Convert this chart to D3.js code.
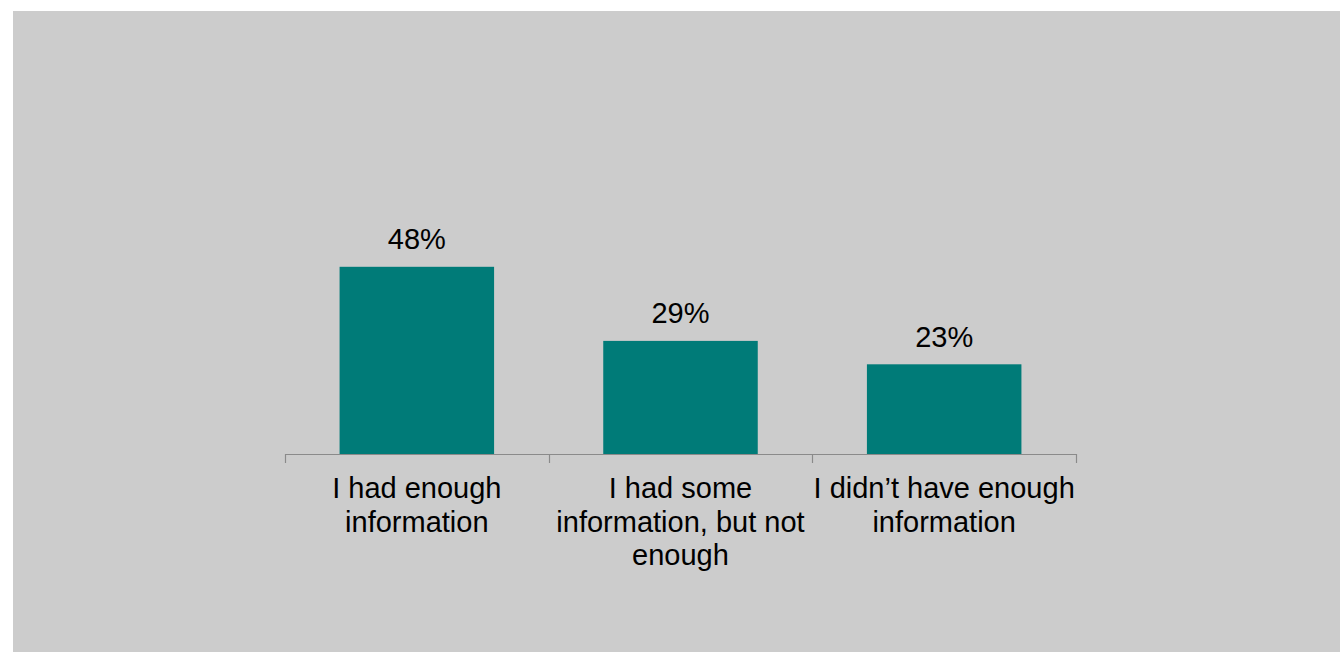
<!DOCTYPE html>
<html>
<head>
<meta charset="utf-8">
<script src="https://cdn.jsdelivr.net/npm/d3@7"></script>
<style>
  html, body { margin: 0; padding: 0; background: #fff; }
  svg { display: block; }
  text { font-family: "Liberation Sans", Arial, sans-serif; fill: #000; }
</style>
</head>
<body>
<svg id="chart"></svg>
<script>
const categories = ["I had enough information", "I had some information, but not enough", "I didn\u2019t have enough information"];
const values = [0.48, 0.29, 0.23];
const yMax = 0.6;

const W = 1340, H = 652;
const svg = d3.select("#chart").attr("width", W).attr("height", H);

svg.append("rect")
  .attr("x", 13).attr("y", 11)
  .attr("width", W - 13).attr("height", H - 11)
  .attr("fill", "#cccccc");

const plot = { left: 285, right: 1076, top: 220, bottom: 454 };

const x = d3.scaleBand().domain(categories)
  .range([plot.left, plot.right])
  .paddingInner(0.414).paddingOuter(0.207);
const y = d3.scaleLinear().domain([0, yMax]).range([plot.bottom, plot.top]);
const fmt = d3.format(".0%");

const g = svg.append("g");

g.selectAll(".bar").data(categories).enter().append("rect")
  .attr("class", "bar")
  .attr("x", d => x(d))
  .attr("width", x.bandwidth())
  .attr("y", (d, i) => y(values[i]))
  .attr("height", (d, i) => y(0) - y(values[i]))
  .attr("fill", "#007b78");

g.selectAll(".val").data(categories).enter().append("text")
  .attr("class", "val")
  .attr("x", d => x(d) + x.bandwidth() / 2)
  .attr("y", (d, i) => y(values[i]) - 17.5)
  .attr("text-anchor", "middle")
  .style("font-size", "29px")
  .text((d, i) => fmt(values[i]));

// axis line with ticks at band edges
const step = x.step();
const edges = d3.range(categories.length + 1).map(i => plot.left + i * step);
const axis = g.append("g").attr("class", "axis");
axis.append("line")
  .attr("x1", plot.left).attr("x2", plot.right)
  .attr("y1", y(0) + 0.5).attr("y2", y(0) + 0.5)
  .attr("stroke", "#8a8a8a").attr("stroke-width", 1.2);
axis.selectAll(".tick").data(edges).enter().append("line")
  .attr("class", "tick")
  .attr("x1", d => Math.round(d) + 0.5).attr("x2", d => Math.round(d) + 0.5)
  .attr("y1", y(0)).attr("y2", y(0) + 9)
  .attr("stroke", "#8a8a8a").attr("stroke-width", 1.2);

// wrapped category labels
const lineH = 33.5;
const labels = g.selectAll(".cat").data(categories).enter().append("text")
  .attr("class", "cat")
  .attr("text-anchor", "middle")
  .style("font-size", "29px")
  .attr("y", y(0) + 44);

labels.each(function(d) {
  const t = d3.select(this);
  const cx = x(d) + x.bandwidth() / 2;
  const words = d.split(" ");
  const maxW = step + 2;
  let line = [];
  let lines = [];
  const probe = t.append("tspan").attr("x", cx);
  words.forEach(w => {
    const test = line.concat(w).join(" ");
    probe.text(test);
    if (probe.node().getComputedTextLength() > maxW && line.length) {
      lines.push(line.join(" "));
      line = [w];
    } else {
      line.push(w);
    }
  });
  lines.push(line.join(" "));
  probe.remove();
  lines.forEach((l, i) => {
    t.append("tspan").attr("x", cx).attr("dy", i === 0 ? 0 : lineH).text(l);
  });
});
</script>
</body>
</html>
